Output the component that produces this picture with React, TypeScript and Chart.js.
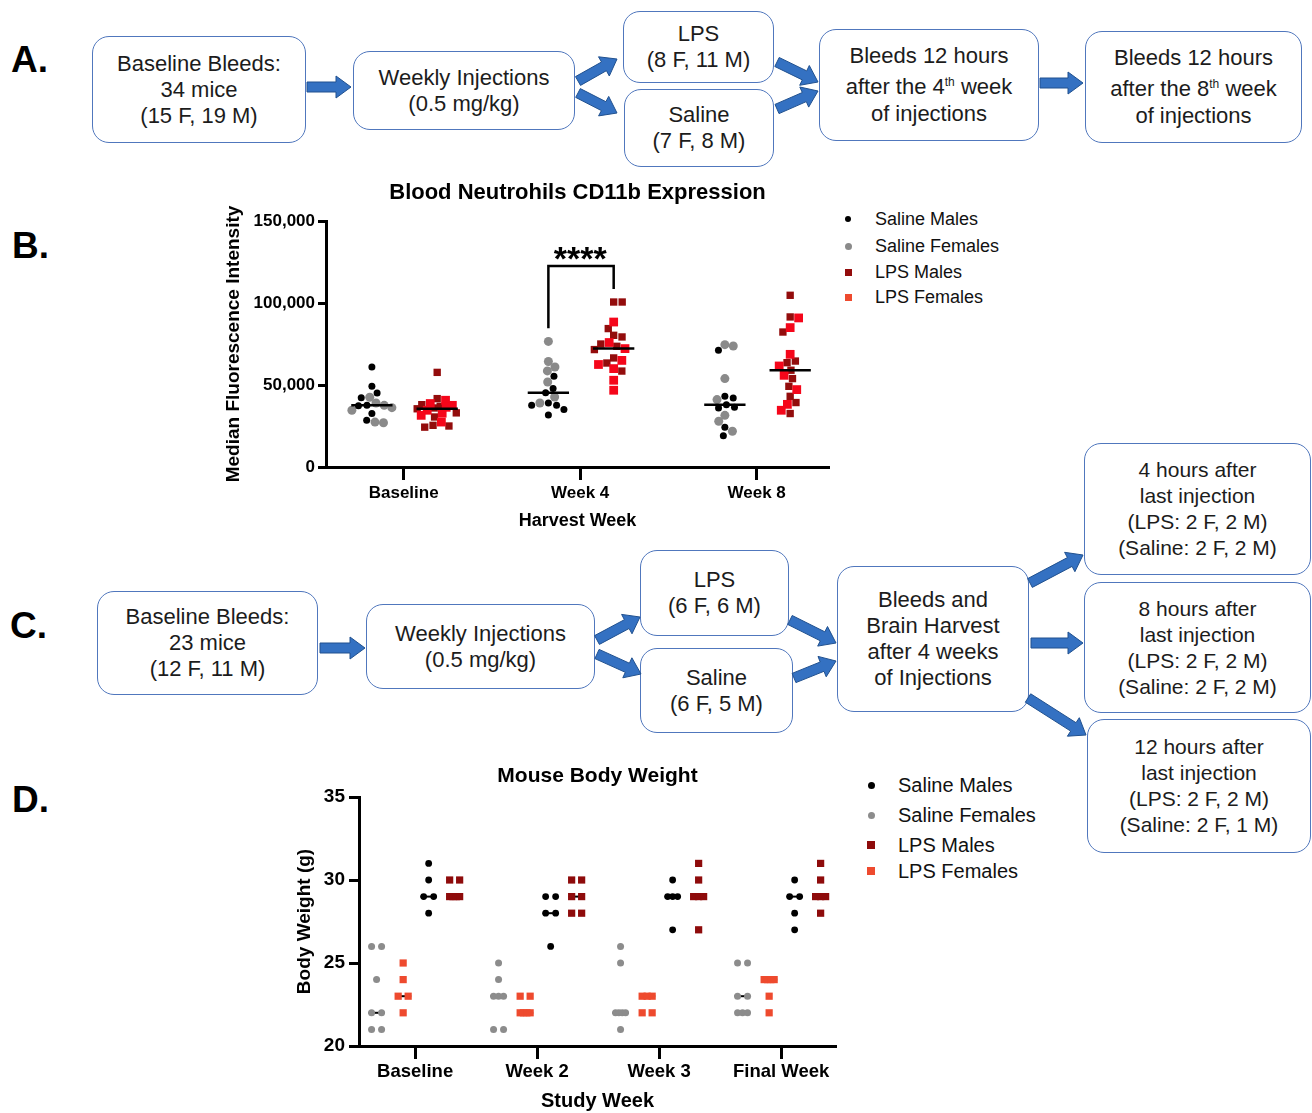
import React, { useEffect, useRef } from "react";
import { Chart, registerables } from "chart.js";
Chart.register(...registerables);

const FONT = '"Liberation Sans", Arial, Helvetica, sans-serif';
Chart.defaults.font.family = FONT;

// ---------------- Panel B data (Blood neutrophil CD11b MFI) ----------------
const harvestWeeks = ["Baseline", "Week 4", "Week 8"];
const bYTicks = [0, 50000, 100000, 150000];
const salineMalesB = [
  [61000, 49200, 45100, 42300, 37600, 37400, 32600, 28500],
  [55300, 47800, 45300, 39000, 37600, 37600, 35000, 31700],
  [71200, 43100, 42100, 38000, 36400, 36000, 24200, 19100],
];
const salineFemalesB = [
  [42500, 39000, 37600, 36200, 34600, 27400, 27000],
  [76600, 64300, 61000, 58600, 51800, 42700, 39000],
  [74600, 73800, 53900, 41100, 31500, 27900, 21800],
];
const lpsMalesB = [
  [57700, 41700, 38000, 37000, 36000, 35500, 33000, 30500, 25400, 25000, 24300],
  [100600, 100600, 84400, 80300, 79300, 75000, 73600, 71600, 66500, 63400, 58500],
  [104700, 91500, 82300, 64600, 63600, 59000, 53900, 49200, 43100, 39300, 32600],
];
const lpsFemalesB = [
  [40700, 38700, 37600, 36400, 34600, 32800, 31500, 27400],
  [88400, 75900, 72200, 65000, 62500, 60000, 52900, 46800],
  [90900, 85000, 68700, 61600, 55900, 47200, 38200, 34600],
];
const sigLabel = "****";
const sigWeek = 1;

// ---------------- Panel D data (Body weight, g) ----------------
const studyWeeks = ["Baseline", "Week 2", "Week 3", "Final Week"];
const dYTicks = [20, 25, 30, 35];
const salineFemalesD = [
  [26, 26, 24, 22, 22, 21, 21],
  [25, 24, 23, 23, 23, 21, 21],
  [26, 25, 22, 22, 22, 22, 21],
  [25, 25, 23, 23, 22, 22, 22],
];
const lpsFemalesD = [
  [25, 24, 23, 23, 22],
  [23, 23, 22, 22, 22, 22],
  [23, 23, 23, 22, 22],
  [24, 24, 24, 24, 23, 22],
];
const salineMalesD = [
  [31, 30, 29, 29, 28],
  [29, 29, 28, 28, 26],
  [30, 29, 29, 29, 27],
  [30, 29, 29, 28, 27],
];
const lpsMalesD = [
  [30, 30, 29, 29, 29, 29],
  [30, 30, 29, 29, 28, 28],
  [31, 30, 29, 29, 29, 27],
  [31, 30, 29, 29, 29, 28],
];

const legendLabels = ["Saline Males", "Saline Females", "LPS Males", "LPS Females"];

// ---------------- colours ----------------
const C_BLACK = "#000000";
const C_GRAY = "#8a8a8a";
const C_DARKRED = "#930c0c";
const C_RED = "#f5061a";
const C_ORANGE = "#ee4a2e";

// ---------------- layout constants ----------------
const B_W = 620, B_H = 355, B_LEFT_AXIS = 106, B_TITLE_H = 41, B_BOTTOM_AXIS = 68, B_PAD_R = 11;
const B_X_MIN = -0.44, B_X_MAX = 2.41;
const bPxPerX = (B_W - B_LEFT_AXIS - B_PAD_R) / (B_X_MAX - B_X_MIN);
const bPxPerY = (B_H - B_TITLE_H - B_BOTTOM_AXIS) / (bYTicks[bYTicks.length - 1] - bYTicks[0]);
const B_SAL_OFF = -0.18, B_LPS_OFF = 0.19, B_MED_HALF = 0.117, B_SWARM_D = 8.5, B_SWARM_MAX = 20;

const D_W = 560, D_H = 353, D_LEFT_AXIS = 69, D_TITLE_H = 37, D_BOTTOM_AXIS = 67, D_PAD_R = 14;
const D_X_MIN = -0.46, D_X_MAX = 3.45;
const dPxPerX = (D_W - D_LEFT_AXIS - D_PAD_R) / (D_X_MAX - D_X_MIN);
const D_OFF = { sf: -0.316, lf: -0.098, sm: 0.111, lm: 0.324 };
const D_ROW_SPAN = 10, D_MED_HALF = 0.066;

type Pt = { x: number; y: number };

function median(a: number[]) {
  const s = [...a].sort((p, q) => p - q);
  const m = Math.floor(s.length / 2);
  return s.length % 2 ? s[m] : (s[m - 1] + s[m]) / 2;
}

// beeswarm: pixel offsets so that markers don't overlap (spread capped)
function swarmOffsets(values: number[], pxPerY: number, diam: number, maxSpread: number): number[] {
  const idx = values.map((_, i) => i).sort((a, b) => values[b] - values[a]);
  const placed: Pt[] = [];
  const out = new Array(values.length).fill(0);
  let flip = 1;
  for (const i of idx) {
    const y = values[i] * pxPerY;
    const near = placed.filter((p) => Math.abs(p.y - y) < diam);
    const cands = [0];
    near.forEach((p) => {
      const dx = Math.sqrt(diam * diam - (p.y - y) ** 2);
      cands.push(p.x + dx + 0.01, p.x - dx - 0.01);
    });
    let ok = cands.filter((c) => Math.abs(c) <= maxSpread && near.every((p) => (p.x - c) ** 2 + (p.y - y) ** 2 >= diam * diam - 0.1));
    if (!ok.length) {
      const grid: number[] = [];
      for (let g = -maxSpread; g <= maxSpread; g += 1) grid.push(g);
      const score = (c: number) => Math.min(...near.map((p) => (p.x - c) ** 2 + (p.y - y) ** 2));
      grid.sort((a, b) => score(b) - score(a));
      ok = [grid[0]];
    }
    ok.sort((a, b) => Math.abs(a) - Math.abs(b) || flip * (b - a));
    const x = ok[0];
    if (x !== 0) flip = -flip;
    placed.push({ x, y });
    out[i] = x;
  }
  return out;
}

// equal values spread side by side in a row (GraphPad style)
function rowOffsets(values: number[], span: number): number[] {
  const counts = new Map<number, number>();
  const seen = new Map<number, number>();
  values.forEach((v) => counts.set(v, (counts.get(v) || 0) + 1));
  return values.map((v) => {
    const n = counts.get(v) || 1;
    const k = seen.get(v) || 0;
    seen.set(v, k + 1);
    return n < 2 ? 0 : -span / 2 + (k * span) / (n - 1);
  });
}

const axisFont = (size: number) => ({ family: FONT, size, weight: "bold" as const });

function lineDs(data: Pt[], order = 0, width = 2.5) {
  return {
    data,
    showLine: true,
    borderColor: "#000",
    borderWidth: width,
    pointRadius: 0,
    borderCapStyle: "butt",
    borderJoinStyle: "miter",
    fill: false,
    order,
  };
}

function buildB() {
  const pts = { sm: [] as Pt[], sf: [] as Pt[], lm: [] as Pt[], lf: [] as Pt[] };
  const medLines: any[] = [];
  harvestWeeks.forEach((_, w) => {
    const groups: [number[][], number[][], number, Pt[], Pt[]][] = [
      [salineMalesB, salineFemalesB, B_SAL_OFF, pts.sm, pts.sf],
      [lpsMalesB, lpsFemalesB, B_LPS_OFF, pts.lm, pts.lf],
    ];
    groups.forEach(([M, F, off, tm, tf]) => {
      const vals = [...M[w], ...F[w]];
      const offs = swarmOffsets(vals, bPxPerY, B_SWARM_D, B_SWARM_MAX);
      vals.forEach((v, i) => {
        const p = { x: w + off + offs[i] / bPxPerX, y: v };
        (i < M[w].length ? tm : tf).push(p);
      });
      const med = median(vals);
      medLines.push(lineDs([{ x: w + off - B_MED_HALF, y: med }, { x: w + off + B_MED_HALF, y: med }], 0, 2.5));
    });
  });
  const sMax = Math.max(...salineMalesB[sigWeek], ...salineFemalesB[sigWeek]);
  const lMax = Math.max(...lpsMalesB[sigWeek], ...lpsFemalesB[sigWeek]);
  const bracketTop = lMax + 22000;
  const bracket = lineDs(
    [
      { x: sigWeek + B_SAL_OFF, y: sMax + 8000 },
      { x: sigWeek + B_SAL_OFF, y: bracketTop },
      { x: sigWeek + B_LPS_OFF, y: bracketTop },
      { x: sigWeek + B_LPS_OFF, y: lMax + 8000 },
    ],
    0,
    2.5
  );
  const pointDs = (label: string, data: Pt[], style: string, r: number, color: string, order: number) => ({
    label, data, pointStyle: style, pointRadius: r, backgroundColor: color, borderColor: color, borderWidth: 0, showLine: false, order,
  });
  const datasets = [
    pointDs(legendLabels[0], pts.sm, "circle", 3.5, C_BLACK, 3),
    pointDs(legendLabels[1], pts.sf, "circle", 4.5, C_GRAY, 4),
    pointDs(legendLabels[2], pts.lm, "rect", 5.2, C_DARKRED, 2),
    pointDs(legendLabels[3], pts.lf, "rect", 6.2, C_RED, 1),
    ...medLines,
    bracket,
  ];
  return { datasets, bracketTop };
}

function buildD() {
  const groups: [string, number[][], number, string, string, number, number][] = [
    [legendLabels[0], salineMalesD, D_OFF.sm, "circle", C_BLACK, 3.4, 1],
    [legendLabels[1], salineFemalesD, D_OFF.sf, "circle", "#8c8c8c", 3.5, 1],
    [legendLabels[2], lpsMalesD, D_OFF.lm, "rect", "#8e0b0b", 5.1, 1],
    [legendLabels[3], lpsFemalesD, D_OFF.lf, "rect", C_ORANGE, 5.1, 1],
  ];
  const datasets: any[] = [];
  const meds: any[] = [];
  groups.forEach(([label, arr, off, style, color, r, order]) => {
    const data: Pt[] = [];
    arr.forEach((vals, w) => {
      const offs = rowOffsets(vals, D_ROW_SPAN);
      vals.forEach((v, i) => data.push({ x: w + off + offs[i] / dPxPerX, y: v }));
      const med = median(vals);
      meds.push(lineDs([{ x: w + off - D_MED_HALF, y: med }, { x: w + off + D_MED_HALF, y: med }], 5, 2));
    });
    datasets.push({ label, data, pointStyle: style, pointRadius: r, backgroundColor: color, borderColor: color, borderWidth: 0, showLine: false, order });
  });
  return [...datasets, ...meds];
}

function axisCommon(tickLen: number) {
  return {
    grid: { display: true, drawOnChartArea: false, drawTicks: true, tickLength: tickLen, tickWidth: 3, tickColor: "#000", color: "#000" },
    border: { display: true, width: 3, color: "#000" },
  };
}

function makeBChart(canvas: HTMLCanvasElement) {
  const { datasets, bracketTop } = buildB();
  const sigPlugin = {
    id: "sigStars",
    afterDatasetsDraw(chart: any) {
      const { ctx, scales } = chart;
      ctx.save();
      ctx.font = `bold 34px ${FONT}`;
      ctx.textAlign = "center";
      ctx.textBaseline = "alphabetic";
      ctx.fillStyle = "#000";
      ctx.fillText(sigLabel, scales.x.getPixelForValue(sigWeek), scales.y.getPixelForValue(bracketTop) + 4);
      ctx.restore();
    },
  };
  return new Chart(canvas, {
    type: "scatter",
    data: { datasets },
    plugins: [sigPlugin],
    options: {
      responsive: false,
      animation: false,
      devicePixelRatio: 1,
      events: [],
      layout: { padding: { left: 0, right: B_PAD_R, top: 0, bottom: 0 } },
      plugins: {
        legend: { display: false },
        tooltip: { enabled: false },
        title: {
          display: true,
          text: "Blood Neutrohils CD11b Expression",
          fullSize: false,
          color: "#000",
          font: axisFont(22),
          padding: { top: 0, bottom: B_TITLE_H - 22 * 1.2 },
        },
      },
      scales: {
        x: {
          type: "linear",
          min: B_X_MIN,
          max: B_X_MAX,
          afterBuildTicks: (ax: any) => { ax.ticks = harvestWeeks.map((_, i) => ({ value: i })); },
          afterFit: (ax: any) => { ax.height = B_BOTTOM_AXIS; },
          ticks: { callback: (v: any) => harvestWeeks[v] ?? "", color: "#000", font: axisFont(17), padding: 3, maxRotation: 0, autoSkip: false },
          title: { display: true, text: "Harvest Week", color: "#000", font: axisFont(18), padding: { top: 0, bottom: 3.2 } },
          ...axisCommon(13),
        },
        y: {
          type: "linear",
          min: bYTicks[0],
          max: bYTicks[bYTicks.length - 1],
          afterBuildTicks: (ax: any) => { ax.ticks = bYTicks.map((v) => ({ value: v })); },
          afterFit: (ax: any) => { ax.width = B_LEFT_AXIS; },
          ticks: { callback: (v: any) => Number(v).toLocaleString("en-US"), color: "#000", font: axisFont(17), padding: 3 },
          title: { display: true, text: "Median Fluorescence Intensity", color: "#000", font: axisFont(19), padding: { top: 2.6, bottom: 0 } },
          ...axisCommon(8),
        },
      },
    } as any,
  });
}

function makeDChart(canvas: HTMLCanvasElement) {
  return new Chart(canvas, {
    type: "scatter",
    data: { datasets: buildD() },
    options: {
      responsive: false,
      animation: false,
      devicePixelRatio: 1,
      events: [],
      layout: { padding: { left: 0, right: D_PAD_R, top: 0, bottom: 0 } },
      plugins: {
        legend: { display: false },
        tooltip: { enabled: false },
        title: {
          display: true,
          text: "Mouse Body Weight",
          fullSize: false,
          color: "#000",
          font: axisFont(21),
          padding: { top: 3.5, bottom: D_TITLE_H - 3.5 - 21 * 1.2 },
        },
      },
      scales: {
        x: {
          type: "linear",
          min: D_X_MIN,
          max: D_X_MAX,
          afterBuildTicks: (ax: any) => { ax.ticks = studyWeeks.map((_, i) => ({ value: i })); },
          afterFit: (ax: any) => { ax.height = D_BOTTOM_AXIS; },
          ticks: { callback: (v: any) => studyWeeks[v] ?? "", color: "#000", font: axisFont(18.5), padding: 2, maxRotation: 0, autoSkip: false },
          title: { display: true, text: "Study Week", color: "#000", font: axisFont(20), padding: { top: 0, bottom: 0 } },
          ...axisCommon(13),
        },
        y: {
          type: "linear",
          min: dYTicks[0],
          max: dYTicks[dYTicks.length - 1],
          afterBuildTicks: (ax: any) => { ax.ticks = dYTicks.map((v) => ({ value: v })); },
          afterFit: (ax: any) => { ax.width = D_LEFT_AXIS; },
          ticks: { color: "#000", font: axisFont(19), padding: 4 },
          title: { display: true, text: "Body Weight (g)", color: "#000", font: axisFont(19), padding: { top: 3.6, bottom: 0 } },
          ...axisCommon(10),
        },
      },
    } as any,
  });
}

// ---------------- flow diagram pieces ----------------
type BoxSpec = { x: number; y: number; w: number; h: number; lines: React.ReactNode[]; fs?: number };

const boxes: BoxSpec[] = [
  { x: 92, y: 36, w: 214, h: 107, lines: ["Baseline Bleeds:", "34 mice", "(15 F, 19 M)"] },
  { x: 353, y: 51, w: 222, h: 79, lines: ["Weekly Injections", "(0.5 mg/kg)"] },
  { x: 623, y: 11, w: 151, h: 72, lines: ["LPS", "(8 F, 11 M)"] },
  { x: 624, y: 89, w: 150, h: 78, lines: ["Saline", "(7 F, 8 M)"] },
  { x: 819, y: 29, w: 220, h: 112, lines: ["Bleeds 12 hours", <>after the 4<sup style={{ fontSize: 12 }}>th</sup> week</>, "of injections"] },
  { x: 1085, y: 31, w: 217, h: 112, lines: ["Bleeds 12 hours", <>after the 8<sup style={{ fontSize: 12 }}>th</sup> week</>, "of injections"] },
  { x: 97, y: 591, w: 221, h: 104, lines: ["Baseline Bleeds:", "23 mice", "(12 F, 11 M)"] },
  { x: 366, y: 604, w: 229, h: 85, lines: ["Weekly Injections", "(0.5 mg/kg)"] },
  { x: 640, y: 550, w: 149, h: 86, lines: ["LPS", "(6 F, 6 M)"] },
  { x: 640, y: 648, w: 153, h: 85, lines: ["Saline", "(6 F, 5 M)"] },
  { x: 837, y: 566, w: 192, h: 146, lines: ["Bleeds and", "Brain Harvest", "after 4 weeks", "of Injections"] },
  { x: 1084, y: 443, w: 227, h: 132, fs: 21, lines: ["4 hours after", "last injection", "(LPS: 2 F, 2 M)", "(Saline: 2 F, 2 M)"] },
  { x: 1084, y: 582, w: 227, h: 131, fs: 21, lines: ["8 hours after", "last injection", "(LPS: 2 F, 2 M)", "(Saline: 2 F, 2 M)"] },
  { x: 1087, y: 719, w: 224, h: 134, fs: 21, lines: ["12 hours after", "last injection", "(LPS: 2 F, 2 M)", "(Saline: 2 F, 1 M)"] },
];

const arrows: [number, number, number, number][] = [
  [307, 87, 351, 87],
  [578, 81, 617, 59],
  [578, 93, 617, 113],
  [777, 62, 818, 82],
  [777, 109, 818, 91],
  [1040, 83, 1083, 83],
  [320, 648, 365, 648],
  [597, 640, 640, 617],
  [597, 654, 641, 674],
  [790, 620, 836, 643],
  [794, 678, 836, 661],
  [1030, 583, 1083, 555],
  [1031, 643, 1083, 643],
  [1028, 698, 1086, 735],
];

function arrowPoints(x1: number, y1: number, x2: number, y2: number, w = 5, h = 11, L = 15) {
  const dx = x2 - x1, dy = y2 - y1, len = Math.hypot(dx, dy);
  const ux = dx / len, uy = dy / len, nx = -uy, ny = ux;
  const bx = x2 - ux * L, by = y2 - uy * L;
  const pts = [
    [x1 + nx * w, y1 + ny * w], [bx + nx * w, by + ny * w], [bx + nx * h, by + ny * h], [x2, y2],
    [bx - nx * h, by - ny * h], [bx - nx * w, by - ny * w], [x1 - nx * w, y1 - ny * w],
  ];
  return pts.map((p) => p.map((n) => n.toFixed(1)).join(",")).join(" ");
}

const panelLetters: [string, number, number][] = [
  ["A.", 11, 60], ["B.", 12, 246], ["C.", 10, 626], ["D.", 12, 800],
];

type LegendSpec = { x: number; tx: number; ys: number[]; fs: number; markers: { shape: string; color: string; size: number }[] };
const legendB: LegendSpec = {
  x: 848, tx: 875, ys: [219, 246, 272, 297], fs: 18,
  markers: [
    { shape: "circle", color: C_BLACK, size: 6 },
    { shape: "circle", color: C_GRAY, size: 7 },
    { shape: "rect", color: C_DARKRED, size: 7 },
    { shape: "rect", color: C_ORANGE, size: 7 },
  ],
};
const legendD: LegendSpec = {
  x: 871, tx: 898, ys: [785, 815, 845, 871], fs: 20,
  markers: [
    { shape: "circle", color: C_BLACK, size: 7 },
    { shape: "circle", color: "#8c8c8c", size: 7 },
    { shape: "rect", color: "#8e0b0b", size: 8 },
    { shape: "rect", color: C_ORANGE, size: 8 },
  ],
};

function Legend({ spec }: { spec: LegendSpec }) {
  return (
    <>
      {legendLabels.map((lab, i) => {
        const m = spec.markers[i];
        const y = spec.ys[i];
        return (
          <React.Fragment key={lab}>
            <div style={{ position: "absolute", left: spec.x - m.size / 2, top: y - m.size / 2, width: m.size, height: m.size, background: m.color, borderRadius: m.shape === "circle" ? "50%" : 0 }} />
            <div style={{ position: "absolute", left: spec.tx, top: y - 12, height: 24, lineHeight: "24px", fontSize: spec.fs, fontFamily: FONT, color: "#111", whiteSpace: "nowrap" }}>{lab}</div>
          </React.Fragment>
        );
      })}
    </>
  );
}

export default function App() {
  const bRef = useRef<HTMLCanvasElement | null>(null);
  const dRef = useRef<HTMLCanvasElement | null>(null);

  useEffect(() => {
    const cb = bRef.current ? makeBChart(bRef.current) : null;
    const cd = dRef.current ? makeDChart(dRef.current) : null;
    return () => {
      cb?.destroy();
      cd?.destroy();
    };
  }, []);

  return (
    <div style={{ position: "absolute", left: 0, top: 0, width: 1312, height: 1113, background: "#fff", overflow: "hidden", fontFamily: FONT }}>
      {panelLetters.map(([t, x, cy]) => (
        <div key={t} style={{ position: "absolute", left: x, top: cy - 20, lineHeight: "40px", fontSize: 37, fontWeight: "bold", color: "#000" }}>{t}</div>
      ))}

      {boxes.map((b, i) => (
        <div
          key={i}
          style={{
            position: "absolute", left: b.x, top: b.y, width: b.w, height: b.h, boxSizing: "border-box",
            border: "1.6px solid #5077bd", borderRadius: 17, background: "#fff",
            display: "flex", flexDirection: "column", alignItems: "center", justifyContent: "center",
            fontSize: b.fs ?? 22, lineHeight: "26px", color: "#1c1c1c", textAlign: "center", whiteSpace: "nowrap",
          }}
        >
          {b.lines.map((l, j) => (
            <div key={j}>{l}</div>
          ))}
        </div>
      ))}

      <svg width={1312} height={1113} style={{ position: "absolute", left: 0, top: 0, pointerEvents: "none" }}>
        {arrows.map((a, i) => (
          <polygon key={i} points={arrowPoints(a[0], a[1], a[2], a[3])} fill="#3471c2" stroke="#21518f" strokeWidth={1} strokeLinejoin="miter" />
        ))}
      </svg>

      <canvas ref={bRef} width={B_W} height={B_H} style={{ position: "absolute", left: 220, top: 180, width: B_W, height: B_H }} />
      <canvas ref={dRef} width={D_W} height={D_H} style={{ position: "absolute", left: 290, top: 760, width: D_W, height: D_H }} />

      <Legend spec={legendB} />
      <Legend spec={legendD} />
    </div>
  );
}
